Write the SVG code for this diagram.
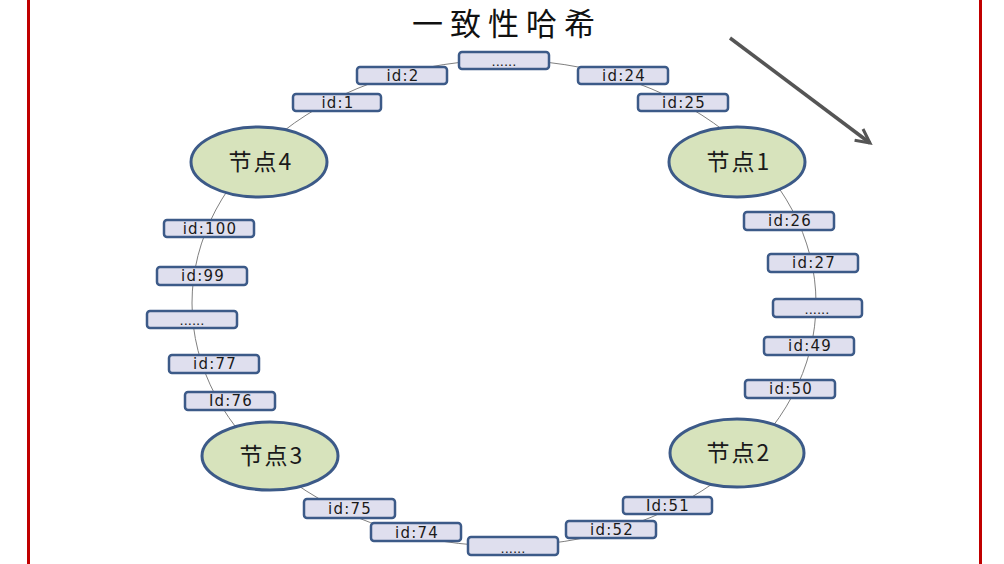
<svg xmlns="http://www.w3.org/2000/svg" width="1004" height="564" viewBox="0 0 1004 564">
<style>
.box{fill:#dfdfee;stroke:#3c5a88;stroke-width:2.5}
.lbl{font-family:"DejaVu Sans",Verdana,sans-serif;font-size:15px;fill:#1a1a1a;text-anchor:middle;letter-spacing:1.2px}
.dots{font-family:"DejaVu Sans",Verdana,sans-serif;font-size:13px;fill:#1a1a1a;text-anchor:middle}
.node{fill:#d7e3bc;stroke:#3c5a88;stroke-width:3}
.ntxt{font-family:"Noto Sans CJK SC",sans-serif;font-size:23px;fill:#1a1a1a;text-anchor:middle;letter-spacing:2px}
.ring{fill:none;stroke:#808080;stroke-width:1}
</style>
<defs>
<marker id="ah" markerWidth="20" markerHeight="20" refX="15" refY="8" orient="auto" markerUnits="userSpaceOnUse" viewBox="0 0 20 16">
<path d="M1,1 L15,8 L1,15" fill="none" stroke="#555" stroke-width="3" stroke-linejoin="miter"/>
</marker>
</defs>
<rect width="1004" height="564" fill="#fff"/>
<line x1="28.5" y1="0" x2="28.5" y2="564" stroke="#c00000" stroke-width="3"/>
<line x1="980.5" y1="0" x2="980.5" y2="564" stroke="#c00000" stroke-width="3"/>
<text x="507" y="35" font-family="Noto Sans CJK SC,sans-serif" font-size="31" fill="#111" text-anchor="middle" letter-spacing="7">一致性哈希</text>
<g id="connectors">
<ellipse class="ring" cx="504" cy="303" rx="312" ry="243"/>
<line x1="730" y1="38" x2="870" y2="143" stroke="#555" stroke-width="3.5" marker-end="url(#ah)"/>
</g>
<g id="b-top"><rect class="box" x="459" y="52" width="90" height="17" rx="3"/><text class="dots" x="504" y="66">......</text></g>
<g id="b-id2"><rect class="box" x="357" y="67" width="90" height="17" rx="3"/><text class="lbl" x="403" y="81">id:2</text></g>
<g id="b-id24"><rect class="box" x="578" y="67" width="90" height="17" rx="3"/><text class="lbl" x="624" y="81">id:24</text></g>
<g id="b-id1"><rect class="box" x="293" y="94" width="88" height="17" rx="3"/><text class="lbl" x="338" y="108">id:1</text></g>
<g id="b-id25"><rect class="box" x="638" y="94" width="90" height="17" rx="3"/><text class="lbl" x="684" y="108">id:25</text></g>
<g id="node1"><ellipse class="node" cx="737" cy="162" rx="68" ry="35"/><text class="ntxt" x="739" y="170">节点1</text></g>
<g id="node4"><ellipse class="node" cx="259" cy="162" rx="68" ry="35"/><text class="ntxt" x="261" y="170">节点4</text></g>
<g id="node3"><ellipse class="node" cx="270" cy="456" rx="68" ry="34"/><text class="ntxt" x="272" y="464">节点3</text></g>
<g id="node2"><ellipse class="node" cx="737" cy="453" rx="67" ry="34"/><text class="ntxt" x="739" y="461">节点2</text></g>
<g id="b-id100"><rect class="box" x="164" y="220" width="90" height="17" rx="3"/><text class="lbl" x="210" y="234">id:100</text></g>
<g id="b-id99"><rect class="box" x="157" y="267" width="90" height="18" rx="3"/><text class="lbl" x="203" y="281">id:99</text></g>
<g id="b-left"><rect class="box" x="147" y="311" width="90" height="17" rx="3"/><text class="dots" x="192" y="325">......</text></g>
<g id="b-id77"><rect class="box" x="169" y="355" width="90" height="18" rx="3"/><text class="lbl" x="215" y="369">id:77</text></g>
<g id="b-id76"><rect class="box" x="185" y="392" width="90" height="18" rx="3"/><text class="lbl" x="231" y="406">Id:76</text></g>
<g id="b-id26"><rect class="box" x="744" y="212" width="90" height="18" rx="3"/><text class="lbl" x="790" y="226">id:26</text></g>
<g id="b-id27"><rect class="box" x="768" y="254" width="90" height="18" rx="3"/><text class="lbl" x="814" y="268">id:27</text></g>
<g id="b-right"><rect class="box" x="773" y="299" width="89" height="18" rx="3"/><text class="dots" x="817" y="314">......</text></g>
<g id="b-id49"><rect class="box" x="764" y="337" width="90" height="18" rx="3"/><text class="lbl" x="810" y="351">id:49</text></g>
<g id="b-id50"><rect class="box" x="745" y="380" width="90" height="18" rx="3"/><text class="lbl" x="791" y="394">id:50</text></g>
<g id="b-id75"><rect class="box" x="304" y="499" width="91" height="19" rx="3"/><text class="lbl" x="350" y="514">id:75</text></g>
<g id="b-id74"><rect class="box" x="371" y="523" width="90" height="18" rx="3"/><text class="lbl" x="417" y="538">id:74</text></g>
<g id="b-bottom"><rect class="box" x="468" y="537" width="90" height="18" rx="3"/><text class="dots" x="513" y="553">......</text></g>
<g id="b-id51"><rect class="box" x="623" y="497" width="89" height="17" rx="3"/><text class="lbl" x="668" y="511">Id:51</text></g>
<g id="b-id52"><rect class="box" x="566" y="521" width="90" height="17" rx="3"/><text class="lbl" x="612" y="535">id:52</text></g>
</svg>
